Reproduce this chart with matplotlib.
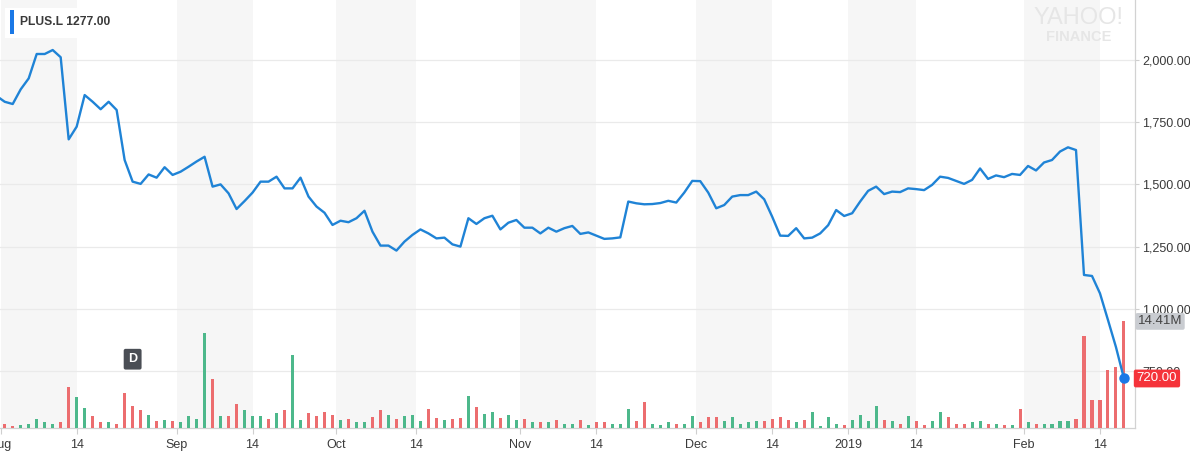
import numpy as np
import matplotlib
matplotlib.use("Agg")
import matplotlib.pyplot as plt
from matplotlib.patches import Rectangle, FancyBboxPatch
from matplotlib.transforms import blended_transform_factory

# ==========================
# DATA (trading-day index, Jul 31 2018 = -1 ... Feb 19 2019 = 140)
# ==========================

closes = [
    1855, 1832, 1823, 1882, 1926, 2024, 2024, 2040, 2011, 1681,
    1732, 1859, 1832, 1802, 1832, 1799, 1598, 1511, 1502, 1540,
    1527, 1569, 1538, 1551, 1571, 1592, 1611, 1491, 1500, 1464,
    1401, 1433, 1467, 1511, 1511, 1531, 1484, 1484, 1527, 1451,
    1411, 1386, 1337, 1354, 1348, 1364, 1394, 1310, 1254, 1254,
    1234, 1270, 1297, 1319, 1303, 1283, 1286, 1259, 1250, 1364,
    1341, 1364, 1374, 1319, 1346, 1357, 1326, 1326, 1303, 1326,
    1310, 1324, 1333, 1301, 1307, 1294, 1281, 1283, 1287, 1431,
    1424, 1420, 1421, 1425, 1434, 1427, 1467, 1514, 1513, 1467,
    1404, 1417, 1451, 1457, 1457, 1471, 1440, 1370, 1294, 1293,
    1324, 1283, 1286, 1303, 1336, 1397, 1373, 1384, 1431, 1474,
    1491, 1461, 1471, 1469, 1484, 1481, 1477, 1498, 1531, 1526,
    1514, 1502, 1518, 1564, 1522, 1536, 1529, 1542, 1538, 1574,
    1556, 1588, 1598, 1632, 1649, 1638, 1136, 1132, 1062, 955,
    846, 720,
]

# volume in millions, Aug 1 onwards
volumes = [
    0.59, 0.32, 0.45, 0.54, 1.26, 0.86, 0.59, 0.86, 5.50, 4.24,
    2.75, 1.58, 0.77, 0.77, 0.59, 4.69, 3.02, 2.39, 1.80, 0.90,
    1.04, 0.90, 0.77, 1.67, 1.26, 12.84, 6.67, 1.67, 1.58, 3.29,
    2.39, 1.67, 1.67, 1.26, 2.03, 2.39, 9.92, 1.04, 2.03, 1.58,
    2.12, 1.80, 1.13, 1.26, 0.77, 0.77, 1.44, 2.39, 1.80, 1.22,
    1.67, 1.80, 0.90, 2.57, 1.31, 1.04, 1.22, 1.31, 4.37, 2.79,
    1.94, 2.21, 1.31, 1.80, 1.04, 1.26, 0.86, 0.77, 0.77, 1.04,
    0.54, 0.54, 1.04, 0.45, 0.77, 0.77, 0.54, 0.59, 2.57, 0.90,
    3.47, 0.59, 0.41, 0.86, 0.59, 0.59, 1.67, 0.77, 1.44, 1.44,
    0.90, 1.44, 0.59, 0.81, 0.90, 0.90, 1.22, 1.44, 1.04, 0.77,
    1.04, 2.12, 0.23, 1.44, 0.59, 0.36, 1.13, 1.80, 0.90, 2.93,
    1.04, 0.90, 0.59, 1.58, 0.90, 0.41, 0.90, 2.12, 1.44, 0.54,
    0.59, 0.77, 0.90, 0.59, 0.59, 0.45, 0.45, 2.57, 0.77, 0.59,
    0.59, 0.59, 0.90, 0.90, 1.22, 12.39, 3.83, 3.83, 7.80, 8.20,
    14.41,
]

# g = up day, r = down day
vol_dirs = (
    "rrgggggrrg" "grrgrrrrgr" "grggggrgrr" "gggrgrggrr" "rrgrggrrgr"
    "gggrrgrrgr" "ggrggrgrgr" "ggrgrrgggr" "rgggrggrrr" "gggggrrrrg"
    "rggggrgggg" "rgrgrrggrr" "rggrgrgrgr" "ggggrrrrrrr"
)

tick_pos = [-0.5, 9, 21.5, 31, 41.5, 51.5, 64.5, 74, 86.5, 96, 105.5, 114, 127.5, 137]
tick_labels = ["Aug", "14", "Sep", "14", "Oct", "14", "Nov", "14", "Dec", "14",
               "2019", "14", "Feb", "14"]
price_ticks = [750, 1000, 1250, 1500, 1750, 2000]

x_price = np.arange(-1, len(closes) - 1)
x_vol = np.arange(len(volumes))

LINE = "#1f83d6"
RED = "#ec6d6f"
GREEN = "#4db88b"
TXT = "#3a3a3a"

plt.rcParams["font.family"] = ["Liberation Sans", "DejaVu Sans"]

# ==========================
# FIGURE / AXES
# ==========================

W, H = 1190, 458
fig = plt.figure(figsize=(W / 100, H / 100), dpi=100)
ax = fig.add_axes([0, 30 / H, 1135 / W, 428 / H])
xmin, xmax = -0.59, 141.38
price_lim = (521, 2241)

ax.set_xlim(xmin, xmax)
ax.set_ylim(*price_lim)

# shaded half-month bands
for a, b in zip(tick_pos[0::2], tick_pos[1::2]):
    ax.axvspan(a, b, color="#f6f6f6", zorder=0, lw=0)

ax.set_axisbelow(True)
ax.yaxis.grid(True, color="#eaeaea", lw=0.9)
ax.set_yticks(price_ticks)
ax.set_yticklabels([f"{v:,.2f}" for v in price_ticks])
ax.set_xticks(tick_pos)
ax.set_xticklabels(tick_labels)
for s in ["top", "left"]:
    ax.spines[s].set_visible(False)
for s in ["right", "bottom"]:
    ax.spines[s].set_color("#d2d2d2")
    ax.spines[s].set_linewidth(0.9)

# ==========================
# VOLUME BARS
# ==========================

axv = ax.twinx()
axv.set_ylim(0, 57.86)
axv.bar(x_vol, volumes, width=0.38,
        color=[GREEN if d == "g" else RED for d in vol_dirs], zorder=2)
axv.set_yticks([])
for s in axv.spines.values():
    s.set_visible(False)

# dividend marker
axv.text(16, 9.3, "D", ha="center", va="center", color="white", fontsize=9,
         fontweight="bold",
         bbox=dict(boxstyle="round,pad=0.35,rounding_size=0.15", fc="#4a4e55", ec="none"))

# ==========================
# PRICE LINE
# ==========================

axl = ax.twinx()
axl.set_ylim(*price_lim)
axl.set_xlim(xmin, xmax)
axl.plot(x_price, closes, color=LINE, lw=1.7, solid_joinstyle="round", zorder=3)
axl.plot(x_price[-1], closes[-1], "o", color="#1a78e6", ms=6.5, zorder=4)
axl.set_yticks([])
for s in axl.spines.values():
    s.set_visible(False)

# price labels on the right (twinx moved them left, put them back)
ax.tick_params(axis="y", left=False, labelleft=False, right=True, labelright=True,
               length=3, width=0.8, color="#cfcfcf", pad=2,
               labelsize=9, labelcolor=TXT)
ax.tick_params(axis="x", length=4, width=0.8, color="#cfcfcf", pad=4,
               labelsize=9, labelcolor=TXT)

# right-hand value flags
tr = blended_transform_factory(axl.transAxes, axl.transData)
axl.text(1.0015, closes[-1], f"{closes[-1]:.2f}", transform=tr, ha="left", va="center",
         color="white", fontsize=9.5, clip_on=False, zorder=6,
         bbox=dict(boxstyle="round,pad=0.22,rounding_size=0.15", fc="#f5333a", ec="none"))
trv = blended_transform_factory(axv.transAxes, axv.transData)
axv.text(1.0025, volumes[-1], f"{volumes[-1]:.2f}M", transform=trv, ha="left", va="center",
         color="#444444", fontsize=9.5, clip_on=False, zorder=6,
         bbox=dict(boxstyle="round,pad=0.18,rounding_size=0.15", fc="#c9ccd1", ec="none"))

# ==========================
# HEADER / LOGO
# ==========================

fig.patches.append(FancyBboxPatch((5 / W, 1 - 38 / H), 110 / W, 30 / H,
                                  boxstyle="square,pad=0", transform=fig.transFigure,
                                  fc="white", ec="none", zorder=5))
fig.patches.append(Rectangle((10 / W, 1 - 34 / H), 4 / W, 24 / H,
                             transform=fig.transFigure, fc="#1a78e6", ec="none", zorder=6))
fig.text(20 / W, 1 - 22 / H, "PLUS.L 1277.00", ha="left", va="center",
         fontsize=8.7, fontweight="bold", color="#3a3a3a", zorder=7)

fig.text(1079 / W, 1 - 18 / H, "YAHOO!", ha="center", va="center",
         fontsize=17, color="#e6e6e6")
fig.text(1079 / W, 1 - 37 / H, "FINANCE", ha="center", va="center",
         fontsize=10.5, color="#e6e6e6", fontweight="bold")

plt.savefig("out.png", dpi=100)
